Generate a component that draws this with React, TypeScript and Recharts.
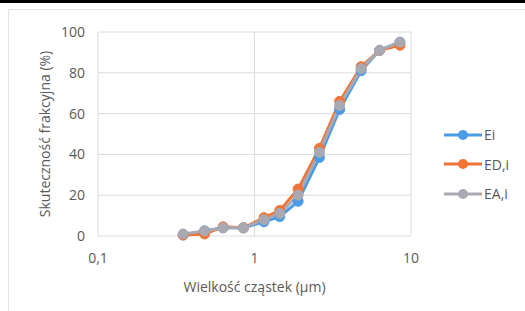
import React from 'react'
import {LineChart, Line, CartesianGrid, Legend, XAxis, YAxis} from 'recharts'

// particle size (um)
const sizes = [0.35, 0.48, 0.63, 0.85, 1.15, 1.45, 1.9, 2.6, 3.5, 4.8, 6.3, 8.5]

const ei = [0.5, 2.5, 4, 4, 7, 9.5, 17, 38.5, 62, 81, 91, 95]
const edi = [0.5, 1, 4.5, 4, 9, 12.5, 23, 43, 66, 83, 91, 93.5]
const eai = [1, 2.5, 4, 4, 8, 11, 20, 41, 64, 82, 91, 95]

const xTicks = [0.1, 1, 10]
const yTicks = [0, 20, 40, 60, 80, 100]

const series = [
  {key: 'ei', name: 'Ei', color: '#4a9be6'},
  {key: 'edi', name: 'ED,i', color: '#f07436'},
  {key: 'eai', name: 'EA,i', color: '#a9a9b4'},
]

const data = sizes.map((x, i) => ({x, ei: ei[i], edi: edi[i], eai: eai[i]}))

const font = '"Open Sans", sans-serif'
const textColor = '#595959'

const renderLegend = () => (
  <div style={{fontFamily: font, fontSize: 14, color: textColor}}>
    {series.map(s => (
      <div key={s.key} style={{display: 'flex', alignItems: 'center', height: 29.5}}>
        <svg width={38} height={12}>
          <line x1={0} y1={6} x2={38} y2={6} stroke={s.color} strokeWidth={3} />
          <circle cx={19} cy={6} r={5} fill={s.color} />
        </svg>
        <span style={{marginLeft: 2}}>{s.name}</span>
      </div>
    ))}
  </div>
)

const App = () => {
  return (
    <div style={{position: 'absolute', left: 0, top: 0, width: 525, height: 311, overflow: 'hidden', background: '#fff'}}>
      <div style={{position: 'absolute', left: 0, top: 0, width: 525, height: 3, background: '#000'}} />
      <div style={{position: 'absolute', left: 8, top: 9, width: 530, height: 310, borderTop: '1px solid #e3e3e3', borderLeft: '1px solid #e3e3e3'}} />
      <div style={{position: 'absolute', left: 0, top: 0}}>
        {/* legend (80px wide) sits in the right margin, so right = 113 - 80 */}
        <LineChart width={525} height={311} data={data} margin={{top: 32, right: 34, bottom: 13, left: 38}}>
          <CartesianGrid stroke="#dcdcdc" strokeWidth={1} />
          <XAxis
            dataKey="x"
            type="number"
            scale="log"
            domain={[0.1, 10]}
            ticks={xTicks}
            allowDataOverflow
            tickFormatter={(v: number) => String(v).replace('.', ',')}
            axisLine={false}
            tickLine={false}
            tickSize={0}
            tickMargin={17}
            height={62}
            tick={{fill: textColor, fontSize: 14, fontFamily: font}}
            label={{value: 'Wielkość cząstek (µm)', position: 'insideBottom', offset: 6, fill: textColor, fontSize: 14, fontFamily: font}}
          />
          <YAxis
            type="number"
            domain={[0, 100]}
            ticks={yTicks}
            axisLine={false}
            tickLine={false}
            tickSize={0}
            tickMargin={13}
            width={60}
            tick={{fill: textColor, fontSize: 14, fontFamily: font}}
            label={{value: 'Skuteczność frakcyjna (%)', angle: -90, position: 'insideLeft', offset: 7, fill: textColor, fontSize: 14, fontFamily: font, style: {textAnchor: 'middle'}}}
          />
          <Legend
            layout="vertical"
            verticalAlign="top"
            align="right"
            content={renderLegend}
            wrapperStyle={{left: 444, top: 120, width: 80}}
          />
          {series.map(s => (
            <Line
              key={s.key}
              dataKey={s.key}
              name={s.name}
              stroke={s.color}
              strokeWidth={3}
              dot={{r: 5, fill: s.color, stroke: s.color, strokeWidth: 1}}
              isAnimationActive={false}
            />
          ))}
        </LineChart>
      </div>
    </div>
  )
}

export default App
